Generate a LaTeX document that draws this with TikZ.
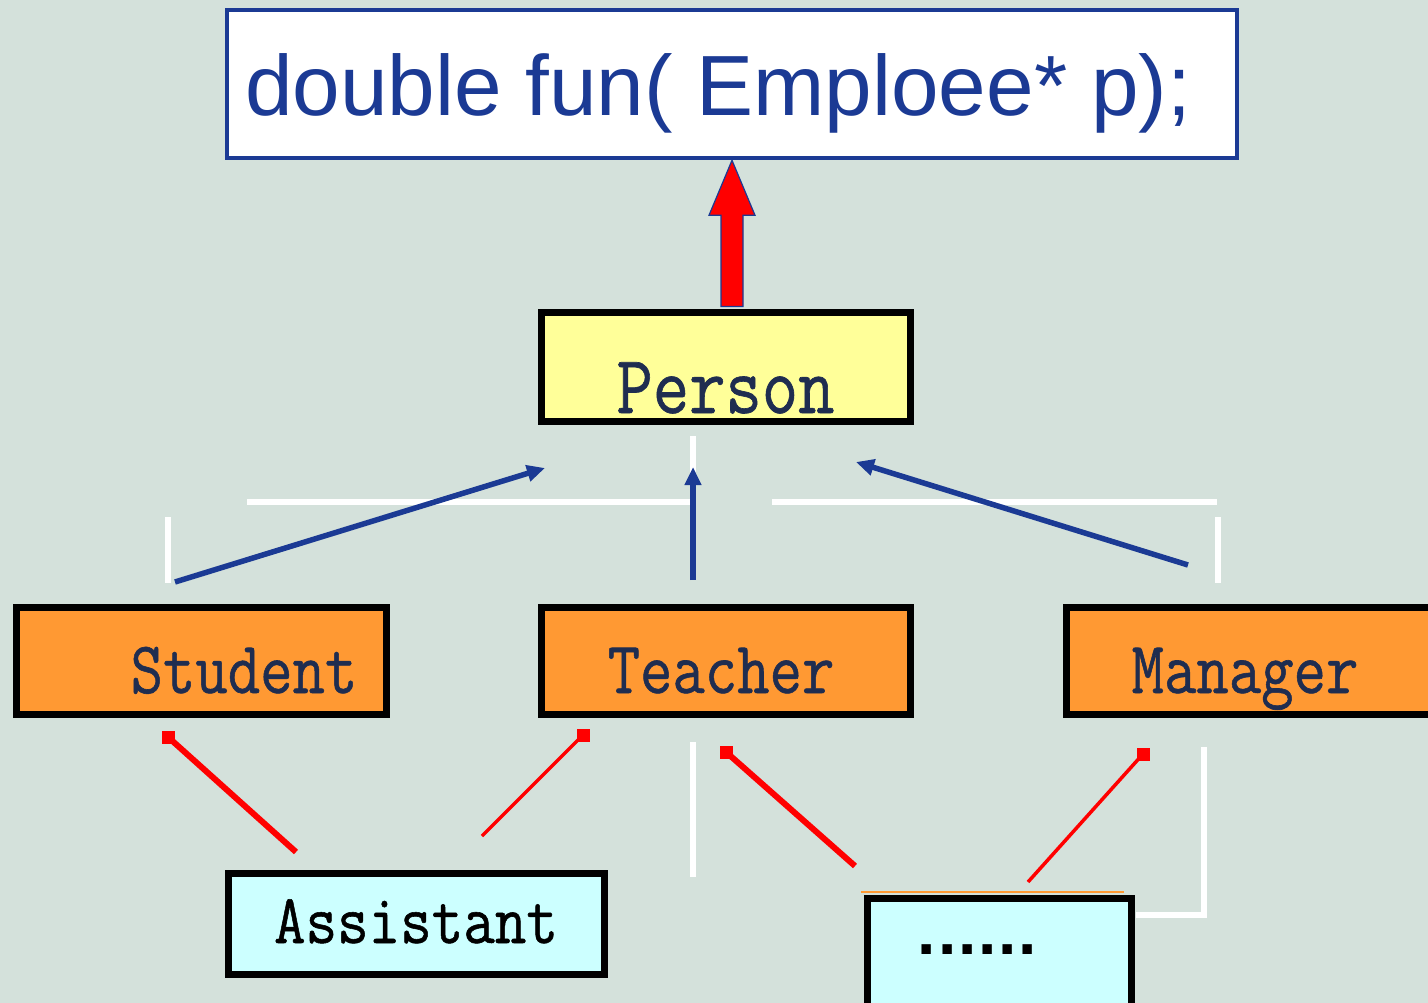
\documentclass[tikz,border=0pt]{standalone}
\usepackage{fontspec}
\usepackage{graphicx}
\setmainfont{Liberation Sans}
\newfontfamily\clsfont{Latin Modern Mono}[FakeBold=0.8]
\usetikzlibrary{arrows.meta,calc}
\definecolor{bg}{HTML}{D4E1DB}
\definecolor{topblue}{HTML}{1B3A94}
\definecolor{pyellow}{HTML}{FFFF99}
\definecolor{korange}{HTML}{FF9933}
\definecolor{acyan}{HTML}{CCFFFF}
\definecolor{navy}{HTML}{1F2D50}
\begin{document}
\begin{tikzpicture}[x=1pt,y=-1pt,
  box/.style={draw=black,line width=7pt,inner sep=0pt,rectangle},
  cls/.style={font=\fontsize{74}{74}\selectfont\clsfont,text=navy,inner sep=0pt,anchor=base},
  wline/.style={draw=white,line width=6pt},
  barrow/.style={draw=topblue,line width=5.5pt,-{Triangle[length=18pt,width=16pt]}},
  rthick/.style={draw=red,line width=6pt},
  rthin/.style={draw=red,line width=3.5pt},
  rsq/.style={fill=red}]
\clip (0,0) rectangle (1428,1003);
\fill[bg] (0,0) rectangle (1428,1003);
% white guide lines
\draw[wline] (247,502) -- (690,502);
\draw[wline] (693,436) -- (693,580);
\draw[wline] (772,502) -- (1217,502);
\draw[wline] (168,517) -- (168,583);
\draw[wline] (1218,517) -- (1218,583);
\draw[wline] (693,742) -- (693,877);
\draw[wline] (1204,747) -- (1204,915) -- (1136,915);
\draw[korange,line width=2.5pt] (861,892) -- (1124,892);
% boxes
\node[draw=topblue,line width=4.5pt,fill=white,inner sep=0pt,minimum width=1010pt,minimum height=148pt] (top) at (732,84) {};
\node[anchor=base west,inner sep=0pt,text=topblue,font=\fontsize{85.5}{86}\selectfont] (toptext) at (245,116) {double fun( Emploee* p);};
\node[box,fill=pyellow,minimum width=369pt,minimum height=108pt] (person) at (725.5,367) {};
\node[box,fill=korange,minimum width=370pt,minimum height=107pt] (student) at (201,660.5) {};
\node[box,fill=korange,minimum width=369pt,minimum height=107pt] (teacher) at (725.5,660.5) {};
\node[box,fill=korange,minimum width=370pt,minimum height=107pt] (manager) at (1251,660.5) {};
\node[box,fill=acyan,minimum width=376pt,minimum height=101pt] (assistant) at (416,923.5) {};
\node[box,fill=acyan,minimum width=264pt,minimum height=112pt] (more) at (999,954) {};
% red block arrow
\coordinate (at) at (top.south);
\coordinate (ab) at (top.south |- person.north);
\filldraw[fill=red,draw=topblue,line width=1.2pt]
  ($(ab)+(-11,-3)$) -- ($(at)+(-11,55)$) -- ($(at)+(-23,55)$) -- (at)
  -- ($(at)+(23,55)$) -- ($(at)+(11,55)$) -- ($(ab)+(11,-3)$) -- cycle;
% blue arrows
\coordinate (s1) at (175,582); \coordinate (e1) at (545,468);
\coordinate (s2) at (693,580); \coordinate (e2) at (693,467);
\coordinate (s3) at (1188,565); \coordinate (e3) at (856,462);
\draw[barrow] (s1) -- (e1);
\draw[barrow] (s2) -- (e2);
\draw[barrow] (s3) -- (e3);
% red lines
\coordinate (r1a) at (168,737); \coordinate (r1b) at (296,852);
\coordinate (r2a) at (583,735); \coordinate (r2b) at (482,836);
\coordinate (r3a) at (726,752); \coordinate (r3b) at (855,866);
\coordinate (r4a) at (1143,754); \coordinate (r4b) at (1028,882);
\draw[rthick] (r1a) -- (r1b);
\draw[rthin] (r2a) -- (r2b);
\draw[rthick] (r3a) -- (r3b);
\draw[rthin] (r4a) -- (r4b);
\foreach \c in {r1a,r2a,r3a,r4a}
  \fill[rsq] ($(\c)+(-6.5,-6.5)$) rectangle ($(\c)+(6.5,6.5)$);
% labels
\node[cls,font=\fontsize{83}{83}\selectfont\clsfont] (tperson) at (725.5,413) {\scalebox{0.85}[1]{Person}};
\node[cls] (tstudent) at (244,693) {\scalebox{0.85}[1]{Student}};
\node[cls] (tteacher) at (721,693) {\scalebox{0.85}[1]{Teacher}};
\node[cls] (tmanager) at (1245,693) {\scalebox{0.85}[1]{Manager}};
\node[cls,text=black,font=\fontsize{70}{70}\selectfont\clsfont] (tassistant) at (416,943) {\scalebox{0.875}[1]{Assistant}};
\node[anchor=base,inner sep=0pt,text=black,font=\fontsize{66}{66}\selectfont\rmfamily\bfseries] (tmore) at (977.5,954) {.\kern1.8pt.\kern1.8pt.\kern1.8pt.\kern1.8pt.\kern1.8pt.};
\end{tikzpicture}
\end{document}
